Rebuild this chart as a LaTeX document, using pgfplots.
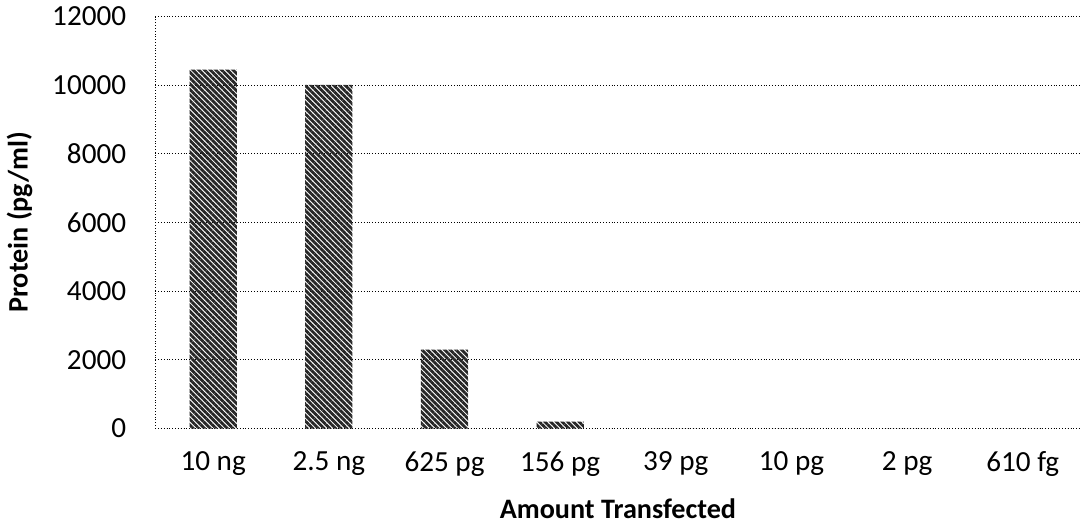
\documentclass[border=0pt]{standalone}
\usepackage{pgfplots}
\pgfplotsset{compat=1.18}
\usepackage{fontspec}
\setmainfont{Carlito}
\usetikzlibrary{patterns.meta}
\begin{document}
\begin{tikzpicture}
\begin{axis}[
  scale only axis, width=460pt, height=205pt,
  ybar, bar width=23.5pt,
  xmin=-0.5, xmax=7.5, ymin=0, ymax=12000,
  xtick=data,
  xticklabels={10 ng, 2.5 ng, 625 pg, 156 pg, 39 pg, 10 pg, 2 pg, 610 fg},
  ytick={0,2000,...,12000},
  scaled y ticks=false,
  axis x line*=bottom, axis y line*=left,
  axis line style={densely dotted, black, -},
  ymajorgrids, grid style={densely dotted, black, thin},
  major tick length=0pt,
  tick label style={font=\fontsize{14.5}{16}\selectfont},
  xticklabel style={yshift=-8pt},
  yticklabel style={xshift=-11pt, /pgf/number format/assume math mode=true},
  /pgf/number format/1000 sep={},
  label style={font=\bfseries\fontsize{14}{16}\selectfont},
  xlabel={Amount Transfected}, xlabel shift=4pt,
  ylabel={Protein (pg/ml)}, ylabel shift=3pt,
]
\addplot[draw=none, pattern={Lines[angle=-45, distance=2pt, line width=1.4pt]}, pattern color=black!85]
  coordinates {(0,10450) (1,10000) (2,2300) (3,200) (4,0) (5,0) (6,0) (7,0)};
\end{axis}
\end{tikzpicture}
\end{document}
